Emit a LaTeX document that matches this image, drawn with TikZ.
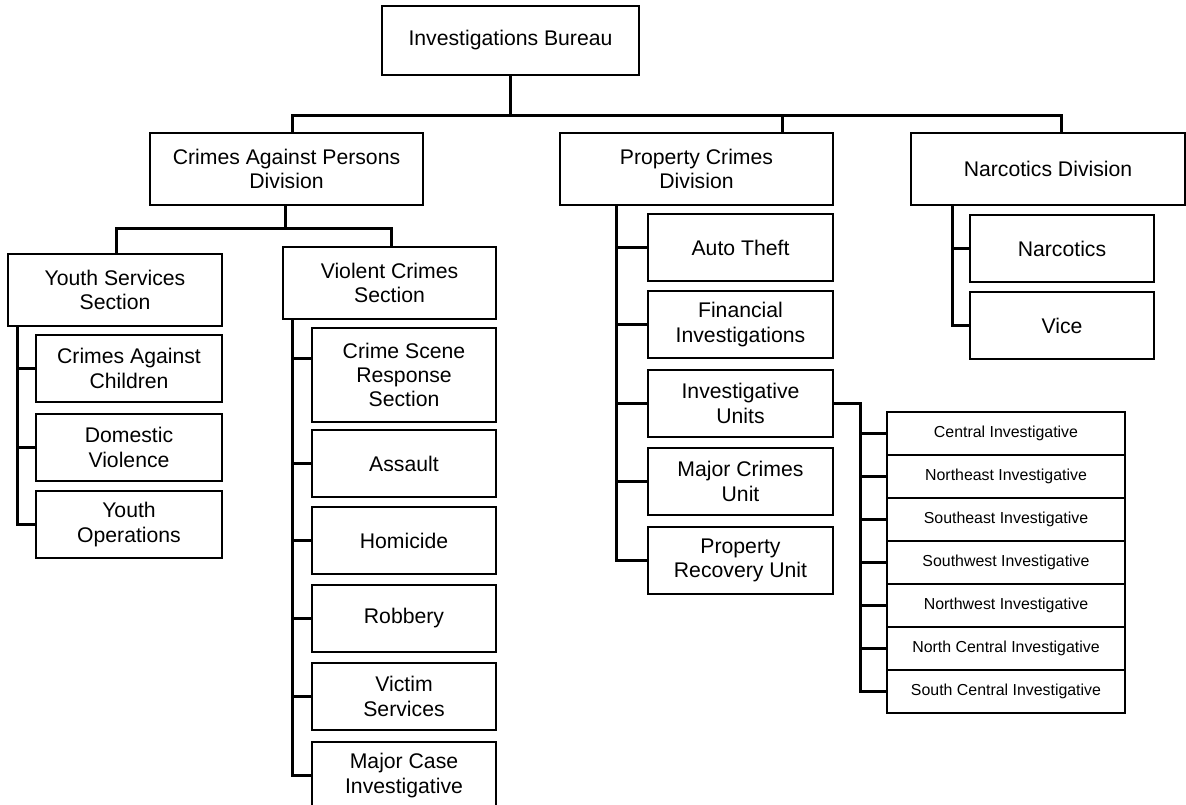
\documentclass[tikz,border=0pt]{standalone}
\usepackage{fontspec}
\setmainfont{Liberation Sans}
\usetikzlibrary{positioning}

\begin{document}
\begin{tikzpicture}[
            x = 1pt, y = -1pt, % pixel grid, y pointing down
            link/.style = {line width = 3pt}, % connector lines
            semithick
        ]

        \tikzstyle{unit}=[
            draw,
            line width = 1.2pt,
            inner sep = 0pt,
            outer sep = 0pt,
            align = center,
            font = \fontsize{21.2}{24.4}\selectfont
        ]
        \tikzstyle{sub}=[unit, minimum width = 185pt, minimum height = 67pt]
        \tikzstyle{region}=[unit, minimum width = 238pt, minimum height = 43pt,
            font = \fontsize{15.9}{18}\selectfont]

        \useasboundingbox (0,0) rectangle (1186,805);

	% bureau and divisions
        \node[unit, minimum width = 257pt, minimum height = 69pt] (bureau) at (510.5,40.5) {Investigations Bureau};
        \node[unit, minimum width = 273pt, minimum height = 72pt] (cap) at (286.5,169) {Crimes Against Persons\\Division};
        \node[unit, minimum width = 273pt, minimum height = 72pt] (prop) at (696.5,169) {Property Crimes\\Division};
        \node[unit, minimum width = 274pt, minimum height = 72pt] (narc) at (1048,169) {Narcotics Division};

        \coordinate (hub) at (510.5,116);
        \draw[link] (bureau.south) -- (hub);
        \draw[link] ([xshift=5.5pt]cap.north) -- ([xshift=5.5pt]cap.north |- hub)
            -- ([xshift=13pt]narc.north |- hub) -- ([xshift=13pt]narc.north);
        \draw[link] ([xshift=85.5pt]prop.north) -- ([xshift=85.5pt]prop.north |- hub);

        % sections
        \node[unit, minimum width = 214pt, minimum height = 72pt] (youth) at (115,290) {Youth Services\\Section};
        \node[unit, minimum width = 213pt, minimum height = 72pt] (vcs) at (389.5,283) {Violent Crimes\\Section};

        \coordinate (shub) at (285,229);
        \draw[link] ([xshift=-1.5pt]cap.south) -- (shub);
        \draw[link] ([xshift=1pt]youth.north) |- ([xshift=1.5pt]vcs.north |- shub) -- ([xshift=1.5pt]vcs.north);

        % youth services units
        \node[sub, minimum width = 186pt] (cac) at (129,368.5) {Crimes Against\\Children};
        \node[sub, minimum width = 186pt] (dv) [below=12pt of cac] {Domestic\\Violence};
        \node[sub, minimum width = 186pt] (yops) [below=10pt of dv] {Youth\\Operations};

        \draw[link] ([xshift=9pt]youth.south west) |- (yops.west);
        \foreach \c in {cac, dv}
            \draw[link] (\c.west) -- ++(-19,0);

        % violent crimes units
        \node[sub, minimum width = 184pt, minimum height = 94pt] (cscene) at (404,375) {Crime Scene\\Response\\Section};
        \node[sub, minimum width = 184pt] (assault) [below=8pt of cscene] {Assault};
        \node[sub, minimum width = 184pt] (homicide) [below=10pt of assault] {Homicide};
        \node[sub, minimum width = 184pt] (robbery) [below=11pt of homicide] {Robbery};
        \node[sub, minimum width = 184pt] (victim) [below=11pt of robbery] {Victim\\Services};
        \node[sub, minimum width = 184pt] (mcase) [below=12pt of victim] {Major Case\\Investigative};

        \draw[link] ([xshift=9pt]vcs.south west) |- (mcase.west);
        \draw[link] ([yshift=17pt]cscene.west) -- ++(-20,0);
        \foreach \c in {assault, homicide, robbery, victim}
            \draw[link] (\c.west) -- ++(-20,0);

        % property crimes units
        \node[sub] (auto) at (740.5,247.5) {Auto Theft};
        \node[sub] (fin) [below=10pt of auto] {Financial\\Investigations};
        \node[sub] (iu) [below=12pt of fin] {Investigative\\Units};
        \node[sub] (mcu) [below=11pt of iu] {Major Crimes\\Unit};
        \node[sub] (recov) [below=12pt of mcu] {Property\\Recovery Unit};

        \draw[link] ([xshift=56pt]prop.south west) |- (recov.west);
        \foreach \c in {auto, fin, iu, mcu}
            \draw[link] (\c.west) -- ++(-32,0);

        % narcotics units
        \node[sub, minimum width = 184pt] (narcotics) at (1062,248.5) {Narcotics};
        \node[sub, minimum width = 184pt] (vice) [below=10pt of narcotics] {Vice};

        \draw[link] ([xshift=41pt]narc.south west) |- (vice.west);
        \draw[link] (narcotics.west) -- ++(-18,0);

        % investigative units
        \node[region] (rcentral) at (1006,433.5) {Central Investigative};
        \node[region] (rne) [below=0pt of rcentral] {Northeast Investigative};
        \node[region] (rse) [below=0pt of rne] {Southeast Investigative};
        \node[region] (rsw) [below=0pt of rse] {Southwest Investigative};
        \node[region] (rnw) [below=0pt of rsw] {Northwest Investigative};
        \node[region] (rnc) [below=0pt of rnw] {North Central Investigative};
        \node[region] (rsc) [below=0pt of rnc] {South Central Investigative};

        \draw[link] (iu.east) -- ++(27,0) |- (rsc.west);
        \foreach \c in {rcentral, rne, rse, rsw, rnw, rnc}
            \draw[link] (\c.west) -- ++(-27,0);

\end{tikzpicture}
\end{document}
